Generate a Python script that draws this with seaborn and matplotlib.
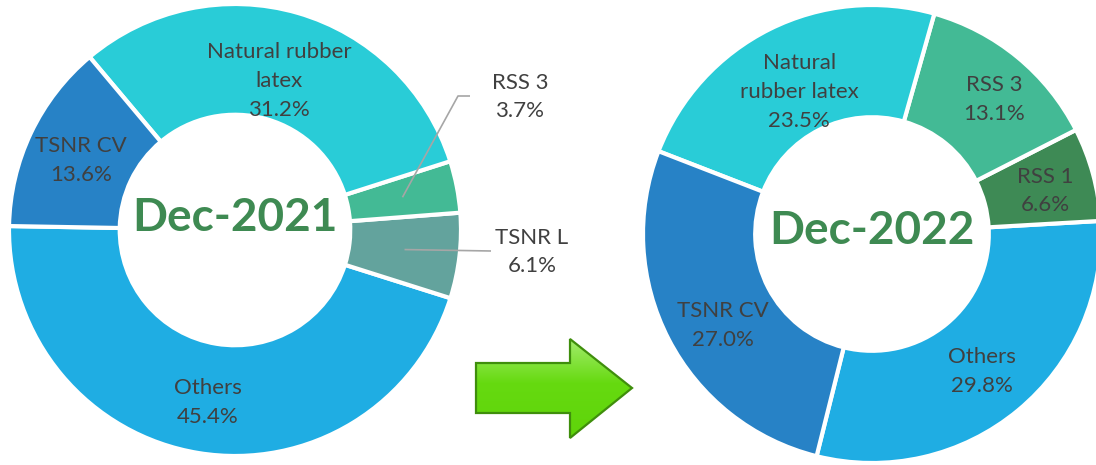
import numpy as np
import matplotlib
matplotlib.use("Agg")
import matplotlib.pyplot as plt
import seaborn as sns
from matplotlib.patches import Polygon
from matplotlib.colors import LinearSegmentedColormap

sns.set_theme(style="white")
plt.rcParams["font.family"] = ["Lato", "DejaVu Sans"]

# Market share by product type (%)
cats_2021 = ["Others", "TSNR L", "RSS 3", "Natural rubber latex", "TSNR CV"]
shares_2021 = [45.4, 6.1, 3.7, 31.2, 13.6]
cats_2022 = ["Others", "RSS 1", "RSS 3", "Natural rubber latex", "TSNR CV"]
shares_2022 = [29.8, 6.6, 13.1, 23.5, 27.0]
titles = ["Dec-2021", "Dec-2022"]

palette = {
    "Natural rubber latex": "#29CCD7",
    "TSNR CV": "#2782C6",
    "Others": "#1FADE3",
    "RSS 3": "#43BA95",
    "TSNR L": "#63A39D",
    "RSS 1": "#3E8A55",
}
wrap_2021 = {"Natural rubber latex": "Natural rubber\nlatex"}
wrap_2022 = {"Natural rubber latex": "Natural\nrubber latex"}

W, H = 1096, 465
TEXT = "#404040"
TITLE = "#3E8A52"
HOLE = 0.51
LABEL_SIZE = 16
LINE_SP = 1.55
DROP = 4  # nudge label blocks so the glyphs, not the descenders, sit centred

fig = plt.figure(figsize=(W / 100, H / 100), dpi=100)
ax = fig.add_axes([0, 0, 1, 1])


def donut(cats, vals, center, radius, start, title, title_y, wrap,
          callouts, label_r, label_dtheta=None):
    label_dtheta = label_dtheta or {}
    width = radius * (1 - HOLE)
    wedges, _ = ax.pie(
        vals, colors=[palette[c] for c in cats], startangle=start,
        counterclock=True, radius=radius, center=center, frame=True,
        wedgeprops=dict(width=width, edgecolor="white", linewidth=3),
    )
    for w, c, v in zip(wedges, cats, vals):
        mid_deg = (w.theta1 + w.theta2) / 2
        label = f"{wrap.get(c, c)}\n{v:.1f}%"
        if c in callouts:
            r_mid = radius - width / 2
            sx = center[0] + r_mid * np.cos(np.deg2rad(mid_deg))
            sy = center[1] + r_mid * np.sin(np.deg2rad(mid_deg))
            pts, (px, py) = callouts[c]
            ax.plot([sx] + [p[0] for p in pts], [sy] + [p[1] for p in pts],
                    color="#A6A6A6", lw=1.2, solid_capstyle="butt")
        else:
            mid = np.deg2rad(mid_deg + label_dtheta.get(c, 0))
            r_lab = label_r.get(c, radius - width / 2)
            px = center[0] + r_lab * np.cos(mid)
            py = center[1] + r_lab * np.sin(mid)
        ax.text(px, py - DROP, label, ha="center", va="center",
                fontsize=LABEL_SIZE, color=TEXT, linespacing=LINE_SP)
    ax.text(center[0], title_y, title, ha="center", va="center",
            fontsize=33, fontweight="bold", color=TITLE)


donut(cats_2021, shares_2021, (235, 235), 226, 179, titles[0], 247,
      wrap_2021,
      {"RSS 3": ([(458, 369), (470, 369)], (520, 372)),
       "TSNR L": ([(491, 214)], (532, 217))},
      {"Natural rubber latex": 159})
donut(cats_2022, shares_2022, (872, 231), 229, 256, titles[1], 234,
      wrap_2022, {},
      {"Natural rubber latex": 163, "RSS 3": 185, "RSS 1": 180},
      {"TSNR CV": 3, "RSS 3": -2})

# Transition arrow with a light-to-dark green gradient
arrow_px = [(476, 363), (570, 363), (570, 339), (632, 388),
            (570, 438), (570, 413), (476, 413)]
arrow_xy = [(x, H - y) for x, y in arrow_px]
poly = Polygon(arrow_xy, closed=True, facecolor="none",
               edgecolor="#3F8E0C", lw=1.6, zorder=4)
ax.add_patch(poly)
grad = np.linspace(0, 1, 200).reshape(-1, 1)
cmap = LinearSegmentedColormap.from_list(
    "arrow", [(0, "#A4EC6E"), (0.45, "#66DA10"), (1, "#5FD40A")])
im = ax.imshow(grad, cmap=cmap, aspect="auto", zorder=3,
               extent=(476, 632, H - 438, H - 339), origin="upper")
im.set_clip_path(poly)

ax.set_xlim(0, W)
ax.set_ylim(0, H)
ax.set_aspect("equal")
ax.axis("off")

fig.savefig("out.png", dpi=100, facecolor="white")
